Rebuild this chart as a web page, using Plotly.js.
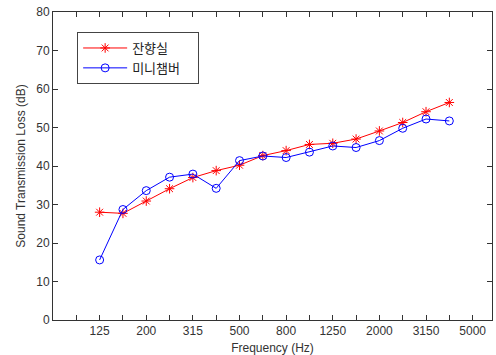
<!DOCTYPE html>
<html>
<head>
<meta charset="utf-8">
<script src="https://cdn.plot.ly/plotly-3.0.1.min.js"></script>
<style>html,body{margin:0;padding:0;background:#fff;}#chart{width:496px;height:355px;}</style>
</head>
<body>
<div id="chart"></div>
<script>
// 1/3-octave band centre frequencies (Hz) for the measured points
var freqs = [125, 160, 200, 250, 315, 400, 500, 630, 800, 1000, 1250, 1600, 2000, 2500, 3150, 4000];
// Sound transmission loss (dB)
var reverbRoom = [28.0, 27.7, 30.9, 34.1, 37.0, 38.8, 40.2, 42.7, 44.0, 45.6, 45.9, 47.0, 49.1, 51.3, 54.1, 56.5];
var miniChamber = [15.6, 28.7, 33.6, 37.1, 37.9, 34.2, 41.4, 42.6, 42.2, 43.6, 45.2, 44.8, 46.6, 49.8, 52.2, 51.7];
// axis bands (tick marks) and their labels
var tickBands = [100, 125, 160, 200, 250, 315, 400, 500, 630, 800, 1000, 1250, 1600, 2000, 2500, 3150, 4000, 5000];
var labelBands = [125, 200, 315, 500, 800, 1250, 2000, 3150, 5000];
var seriesNames = ['잔향실', '미니챔버'];

// band position index (125 Hz -> 0)
function bandPos(f) { return tickBands.indexOf(f) - 1; }
var xs = freqs.map(bandPos);
var tickvals = tickBands.map(bandPos);
var ticktext = tickBands.map(function (f) { return labelBands.indexOf(f) >= 0 ? String(f) : ''; });

// trailing em-space only widens the legend box (right padding like the original)
var pad = '\u2003';

var traces = [
  {
    x: xs, y: reverbRoom, name: seriesNames[0] + pad, type: 'scatter', mode: 'lines+markers',
    line: {color: '#ff0000', width: 1},
    marker: {symbol: 'asterisk-open', size: 8, color: '#ff0000', line: {color: '#ff0000', width: 1}}
  },
  {
    x: xs, y: miniChamber, name: seriesNames[1] + pad, type: 'scatter', mode: 'lines+markers',
    line: {color: '#0000ff', width: 1},
    marker: {symbol: 'circle-open', size: 8, color: '#0000ff', line: {color: '#0000ff', width: 1}}
  }
];

var axisFont = {family: 'Liberation Sans, Arial, sans-serif', size: 12, color: '#333'};
var layout = {
  width: 496, height: 355,
  margin: {l: 53, r: 4, t: 12, b: 35, pad: 0},
  paper_bgcolor: '#fff', plot_bgcolor: '#fff',
  showlegend: true,
  legend: {
    x: 0.055, y: 0.935, xanchor: 'left', yanchor: 'top',
    bgcolor: '#fff', bordercolor: '#444', borderwidth: 1,
    font: {family: 'Noto Sans CJK KR, sans-serif', size: 13, color: '#222'},
    itemwidth: 44,
    tracegroupgap: 0
  },
  xaxis: {
    type: 'linear', range: [-2, 16.83],
    tickmode: 'array', tickvals: tickvals, ticktext: ticktext,
    ticks: 'inside', ticklen: 5, tickcolor: '#333', tickwidth: 1,
    showline: true, linecolor: '#333', linewidth: 1, mirror: 'ticks',
    showgrid: false, zeroline: false,
    tickfont: axisFont,
    title: {text: 'Frequency (Hz)', font: axisFont, standoff: 6}
  },
  yaxis: {
    range: [0, 80], tickmode: 'linear', tick0: 0, dtick: 10,
    ticks: 'inside', ticklen: 5, tickcolor: '#333', tickwidth: 1,
    showline: true, linecolor: '#333', linewidth: 1, mirror: 'ticks',
    showgrid: false, zeroline: false,
    tickfont: axisFont,
    title: {text: 'Sound Transmission Loss (dB)', font: axisFont, standoff: 8}
  }
};

Plotly.newPlot('chart', traces, layout, {staticPlot: true, displayModeBar: false});
</script>
</body>
</html>
